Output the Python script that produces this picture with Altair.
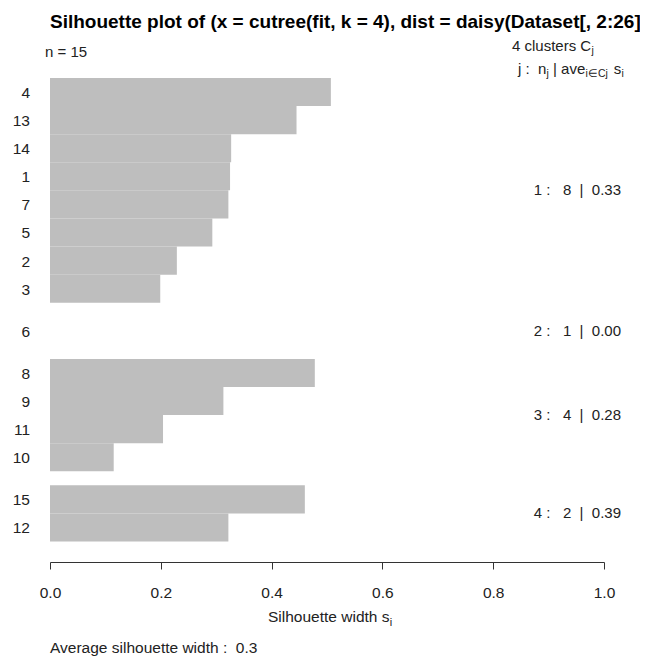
import altair as alt
import pandas as pd

# ---------------- data ----------------
obs = ["4", "13", "14", "1", "7", "5", "2", "3", "6", "8", "9", "11", "10", "15", "12"]
cluster = [1, 1, 1, 1, 1, 1, 1, 1, 2, 3, 3, 3, 3, 4, 4]
sil = [0.507, 0.445, 0.327, 0.325, 0.322, 0.293, 0.229, 0.199, 0.0,
       0.478, 0.313, 0.204, 0.115, 0.460, 0.322]
clusters = [1, 2, 3, 4]
cluster_n = [8, 1, 4, 2]
cluster_avg = ["0.33", "0.00", "0.28", "0.39"]
avg_width = "0.3"
n_obs = 15
k = 4
xticks = [0.0, 0.2, 0.4, 0.6, 0.8, 1.0]
title_text = "Silhouette plot of (x = cutree(fit, k = 4), dist = daisy(Dataset[, 2:26]))"

# ---------------- layout / style ----------------
FONT = "Liberation Sans"
TXT = "#222222"
BAR = "#bebebe"
W, H = 554, 484
UNIT = 28.09          # px per bar
GAP = 0.5             # space between clusters (in bar units)
NB = "\u00a0"

# Arial / Liberation Sans advance widths (per 1000 em)
AW = {" ": 278, NB: 278, "j": 222, ":": 278, "n": 556, "|": 260, "a": 556, "v": 500,
      "e": 556, "i": 222, "\u2208": 713, "C": 722, "s": 500, "4": 556, "c": 500,
      "l": 222, "u": 556, "t": 278, "r": 333, "S": 667, "h": 556, "o": 556,
      "w": 722, "d": 556}


def tw(s, size):
    return sum(AW.get(ch, 556) for ch in s) * size / 1000.0


# bar positions (R barplot with space 0.5 between clusters)
starts, ends = [], []
u, prev = 0.0, None
for c in cluster:
    if prev is not None and c != prev:
        u += GAP
    starts.append(u)
    ends.append(u + 1)
    u += 1
    prev = c

bars = pd.DataFrame({"obs": obs, "cluster": cluster, "sil": sil, "zero": 0.0,
                     "start": starts, "end": ends})
bars["mid"] = (bars["start"] + bars["end"]) / 2
centers = bars.groupby("cluster")["mid"].mean()

stats = pd.DataFrame({
    "cluster": clusters,
    "mid": [centers[c] for c in clusters],
    "one": 1.0,
    "label": [f"{c}{NB}:{NB}{NB}{NB}{n}{NB}{NB}|{NB}{NB}{a}"
              for c, n, a in zip(clusters, cluster_n, cluster_avg)],
})

xscale = alt.Scale(domain=[0, 1], nice=False, zero=False)
yscale = alt.Scale(domain=[0, H / UNIT], nice=False, zero=False, reverse=True)

xaxis = alt.Axis(values=xticks, format=".1f", title=None, grid=False,
                 tickSize=7, tickWidth=1, tickColor="#333333",
                 domainColor="#333333", domainWidth=1,
                 labelFont=FONT, labelFontSize=15.5, labelColor=TXT,
                 labelPadding=16, labelFlush=False, labelOverlap=False, labelBound=False)

bar_layer = alt.Chart(bars).mark_rect(color=BAR, strokeWidth=0).encode(
    x=alt.X("zero:Q", scale=xscale, axis=xaxis),
    x2="sil:Q",
    y=alt.Y("start:Q", scale=yscale, axis=None),
    y2="end:Q",
)

ylab_layer = alt.Chart(bars).mark_text(
    align="right", baseline="middle", font=FONT, fontSize=15.5, color=TXT, dy=1
).encode(
    x=alt.value(-20),
    y=alt.Y("mid:Q", scale=yscale, axis=None),
    text="obs:N",
)

stat_layer = alt.Chart(stats).mark_text(
    align="right", baseline="middle", font=FONT, fontSize=15, color=TXT, dx=17
).encode(
    x=alt.X("one:Q", scale=xscale, axis=xaxis),
    y=alt.Y("mid:Q", scale=yscale, axis=None),
    text="label:N",
)


def note(s, x, y, size=15, bold=False, color=TXT):
    return alt.Chart(pd.DataFrame({"t": [s]})).mark_text(
        align="left", baseline="alphabetic", font=FONT, fontSize=size,
        fontWeight="bold" if bold else "normal", color=color
    ).encode(x=alt.value(x), y=alt.value(y), text="t:N")


SP15 = tw(" ", 15)
notes = []
# main title
notes.append(note(title_text, 0, -50, size=19, bold=True, color="#000000"))
# n = 15
notes.append(note(f"n = {n_obs}", -5, -21.5))
# "4 clusters C_j"
s1 = f"{k} clusters C"
x1 = 462
notes.append(note(s1, x1, -27.5))
notes.append(note("j", x1 + tw(s1, 15) + 0.3, -24, size=10.5))
# "j :  n_j | ave_{i in Cj}  s_i"   (no leading spaces: gaps are added to x)
x2, yb = 468, -4.5
p1 = f"j{NB}:{NB}{NB}n"
notes.append(note(p1, x2, yb))
x2 += tw(p1, 15) + 0.2
notes.append(note("j", x2, yb + 3.5, size=10.5))
x2 += tw("j", 10.5) + SP15
notes.append(note("|", x2, yb))
x2 += tw("|", 15) + SP15
notes.append(note("ave", x2, yb))
x2 += tw("ave", 15) + 0.3
p4 = "i\u2208Cj"
notes.append(note(p4, x2, yb + 3.5, size=10.5))
x2 += tw(p4, 10.5) + 2 * SP15
notes.append(note("s", x2, yb))
x2 += tw("s", 15) + 0.3
notes.append(note("i", x2, yb + 3.5, size=10.5))
# x axis title "Silhouette width s_i"
xt = "Silhouette width s"
xl = 218
notes.append(note(xt, xl, 544, size=15.5))
notes.append(note("i", xl + tw(xt, 15.5) + 0.3, 547.5, size=11))
# sub title
notes.append(note(f"Average silhouette width :{NB}{NB}{avg_width}", 0, 574.7, size=15.5))

chart = alt.layer(bar_layer, ylab_layer, stat_layer, *notes).properties(
    width=W, height=H,
    autosize=alt.AutoSizeParams(type="none"),
    padding={"left": 42, "top": 70, "right": 36, "bottom": 98},
    background="white",
).configure_view(stroke=None)

chart.save("out.html", embed_options={"renderer": "svg", "actions": False})
